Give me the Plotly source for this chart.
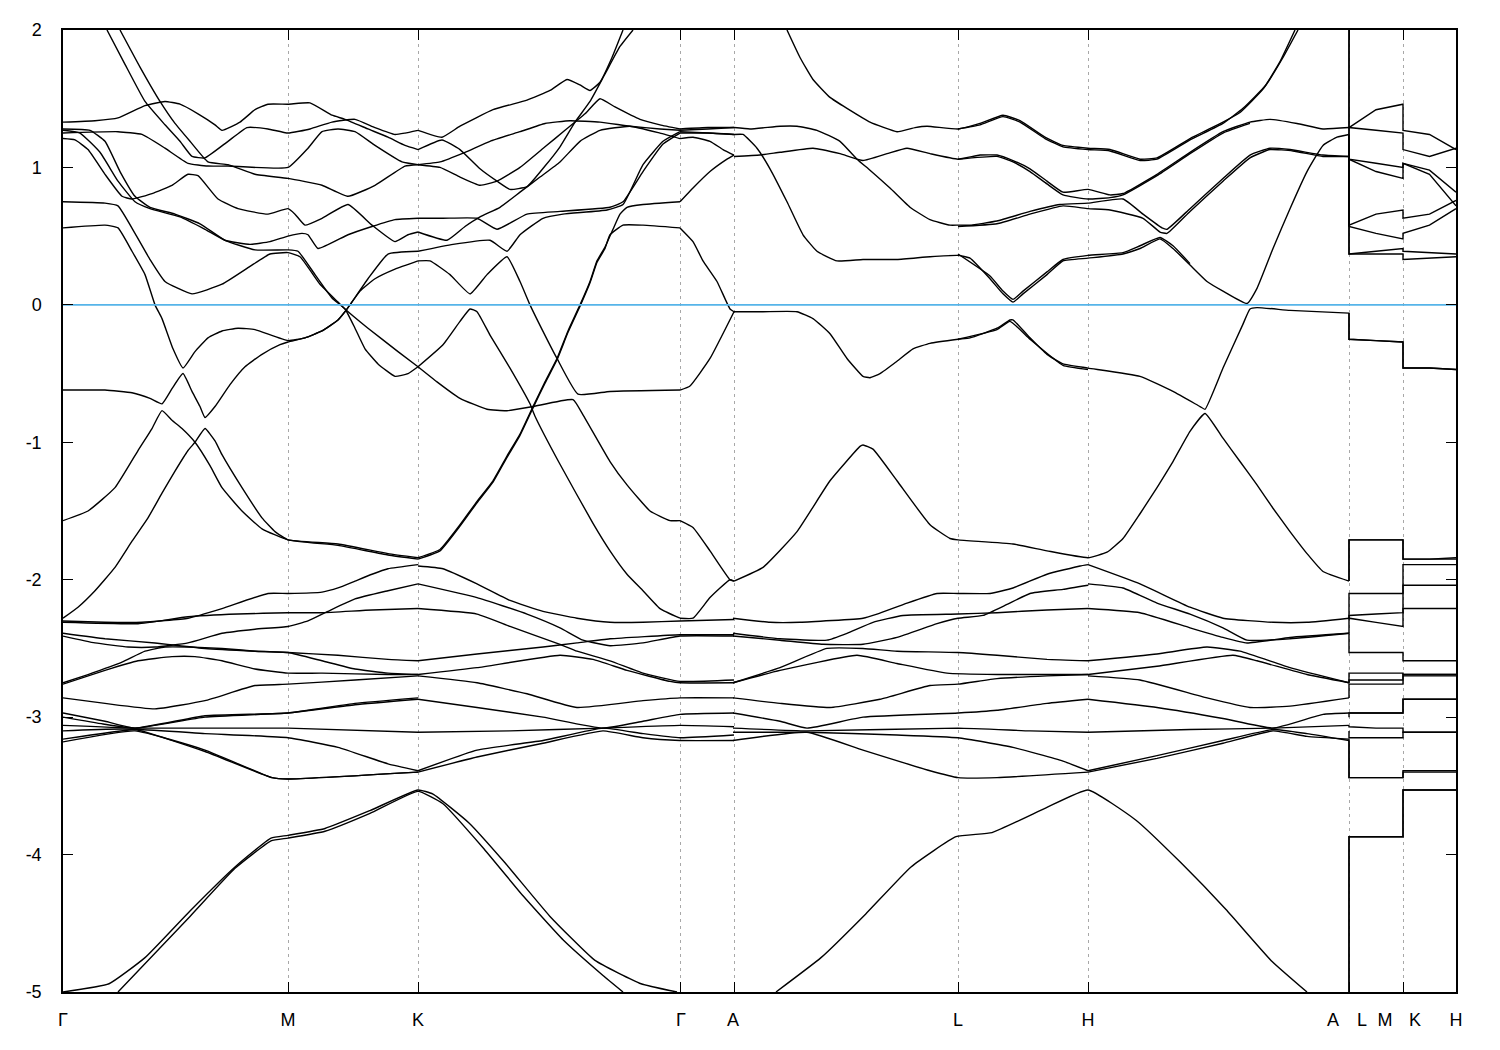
import plotly.graph_objects as go

# ---------------- axis data ----------------
hs_k = [0, 225, 355, 617, 671, 895, 1025, 1286, 1340, 1393]          # high-symmetry positions
label_k = [0, 225, 355, 618, 670, 895, 1025, 1270, 1299, 1322, 1352, 1393]
label_text = ["Γ", "M", "K", "Γ", "A", "L", "H", "A", "L", "M", "K", "H"]
y_ticks = [2, 1, 0, -1, -2, -3, -4, -5]
y_text = ["2", "1", "0", "-1", "-2", "-3", "-4", "-5"]

# ---------------- Γ-M-K (upper bands) ----------------
B1 = [(0,1.33),(32,1.34),(55,1.36),(82,1.45),(102,1.48),(117,1.46),(135,1.39),(152,1.31),(159,1.27),(177,1.33),(192,1.42),(205,1.46),(225,1.46),(247,1.47),(269,1.38),(282,1.35),(305,1.28),(325,1.22),(342,1.16),(355,1.13)]
S1 = [(44,2.0),(62,1.75),(82,1.48),(102,1.31),(117,1.19),(129,1.08),(142,1.07),(165,1.19),(184,1.29),(205,1.28),(225,1.25),(247,1.28),(269,1.33),(292,1.35),(312,1.29),(332,1.24),(342,1.25),(355,1.27)]
S2 = [(57,2.0),(77,1.73),(97,1.48),(112,1.32),(127,1.19),(145,1.04),(165,1.02),(192,0.95),(225,0.92),(259,0.87),(285,0.79),(312,0.87),(342,1.01),(355,1.02)]
B3 = [(0,1.25),(55,1.26),(79,1.24),(102,1.14),(125,1.03),(145,1.01),(165,1.01),(225,1.00),(245,1.14),(259,1.26),(275,1.28),(292,1.26),(312,1.16),(339,1.04),(355,1.02)]
B5 = [(0,1.21),(12,1.20),(25,1.13),(42,0.95),(59,0.79),(69,0.77),(89,0.81),(109,0.87),(125,0.95),(135,0.94),(155,0.77),(175,0.70),(205,0.66),(225,0.70),(232,0.66),(242,0.58),(259,0.63),(285,0.73),(309,0.58),(332,0.46),(345,0.51),(355,0.53)]
B6 = [(0,1.27),(17,1.25),(37,1.11),(55,0.90),(72,0.75),(87,0.70),(117,0.64),(142,0.55),(162,0.47),(187,0.44),(207,0.46),(225,0.50),(239,0.52),(245,0.51),(255,0.41),(285,0.51),(309,0.57),(332,0.62),(355,0.63)]
B7 = [(0,1.28),(27,1.27),(42,1.19),(57,0.97),(72,0.79),(87,0.71),(112,0.66),(137,0.59),(162,0.47),(192,0.40),(225,0.40),(235,0.39),(252,0.22),(269,0.05),(282,-0.03),(292,-0.17),(302,-0.32),(315,-0.43),(332,-0.52),(345,-0.50),(355,-0.45)]
B8 = [(0,0.75),(42,0.74),(55,0.72),(72,0.52),(87,0.33),(102,0.17),(129,0.08),(159,0.15),(187,0.28),(207,0.37),(225,0.38),(237,0.35),(257,0.15),(275,0.02),(282,-0.03),(305,-0.17),(335,-0.34),(355,-0.45)]
B9 = [(0,0.56),(42,0.58),(55,0.56),(69,0.39),(82,0.22),(92,0.0),(99,-0.10),(110,-0.32),(120,-0.46),(132,-0.34),(145,-0.24),(159,-0.19),(175,-0.17),(192,-0.18),(225,-0.26),(242,-0.24),(259,-0.19),(275,-0.11),(282,-0.05),(287,0.0),(305,0.19),(325,0.37),(355,0.39)]
B10 = [(0,-0.62),(42,-0.62),(69,-0.64),(87,-0.68),(99,-0.72),(109,-0.61),(120,-0.50),(129,-0.63),(137,-0.74),(142,-0.82),(152,-0.74),(167,-0.58),(182,-0.45),(199,-0.36),(217,-0.29),(225,-0.27),(242,-0.24),(259,-0.19),(275,-0.11),(285,-0.02),(297,0.10),(312,0.19),(332,0.26),(355,0.32)]
B11 = [(0,-1.57),(25,-1.50),(52,-1.33),(75,-1.06),(89,-0.90),(99,-0.77),(109,-0.84),(119,-0.90),(132,-1.00),(147,-1.17),(159,-1.33),(179,-1.50),(199,-1.63),(225,-1.71),(275,-1.74),(325,-1.81),(355,-1.84)]
B12 = [(0,-2.28),(15,-2.20),(32,-2.08),(52,-1.91),(69,-1.72),(85,-1.55),(99,-1.37),(112,-1.21),(125,-1.06),(132,-1.00),(142,-0.90),(152,-0.99),(159,-1.09),(179,-1.33),(199,-1.55),(212,-1.65),(225,-1.71),(275,-1.75),(325,-1.82),(355,-1.85)]

# ---------------- K-Γ (upper bands) ----------------
KG1 = [(355,1.27),(379,1.22),(397,1.30),(430,1.42),(464,1.49),(487,1.56),(504,1.64),(517,1.60),(527,1.56),(537,1.62),(549,1.80),(560,2.0)]
KG2 = [(355,1.13),(379,1.20),(397,1.13),(417,0.99),(434,0.90),(447,0.84),(464,0.86),(482,1.01),(497,1.15),(512,1.33),(527,1.48),(542,1.68),(557,1.88),(570,2.0)]
KG3 = [(355,1.02),(377,1.00),(397,0.93),(417,0.87),(434,0.90),(457,1.00),(482,1.15),(502,1.27),(522,1.39),(537,1.50),(552,1.44),(577,1.35),(597,1.31),(617,1.28)]
KG4 = [(355,1.02),(377,1.04),(402,1.11),(427,1.19),(457,1.26),(482,1.32),(507,1.34),(537,1.33),(567,1.30),(597,1.28),(617,1.27)]
KG5 = [(355,0.63),(380,0.63),(414,0.63),(434,0.55),(464,0.66),(497,0.68),(547,0.71),(560,0.75),(580,0.97),(600,1.17),(617,1.25)]
KG6 = [(355,0.53),(384,0.47),(402,0.57),(417,0.64),(437,0.71),(457,0.82),(477,0.93),(497,1.04),(517,1.19),(537,1.27),(567,1.30),(597,1.25),(617,1.21)]
KG7 = [(355,0.39),(390,0.44),(427,0.47),(444,0.39),(457,0.51),(480,0.63),(500,0.66),(544,0.69),(560,0.73),(580,1.02),(600,1.19),(617,1.26)]
KG8 = [(355,0.32),(367,0.32),(387,0.22),(407,0.08),(424,0.22),(444,0.35),(457,0.17),(467,0.0),(475,-0.12),(494,-0.39),(515,-0.65),(547,-0.63),(617,-0.62)]
KGb = [(355,-0.45),(380,-0.29),(397,-0.12),(407,-0.03),(414,-0.05),(427,-0.22),(447,-0.46),(467,-0.72),(472,-0.81),(497,-1.16),(530,-1.59),(547,-1.79),(564,-1.96),(580,-2.08),(597,-2.21),(617,-2.28)]
KGc = [(355,-0.45),(374,-0.56),(397,-0.68),(424,-0.76),(444,-0.77),(470,-0.74),(510,-0.69),(520,-0.80),(547,-1.14),(564,-1.31),(587,-1.50),(607,-1.57),(617,-1.57)]
P1a = [(355,-1.84),(377,-1.78),(397,-1.60),(414,-1.43),(430,-1.28),(444,-1.10),(457,-0.94),(470,-0.74),(482,-0.56),(494,-0.39),(505,-0.19),(517,0.0),(527,0.17),(534,0.32),(542,0.42),(550,0.55),(557,0.66),(564,0.71),(580,0.73),(617,0.75)]
P1b = [(355,-1.85),(377,-1.79),(397,-1.61),(414,-1.44),(430,-1.29),(444,-1.11),(457,-0.95),(470,-0.75),(482,-0.57),(494,-0.40),(505,-0.20),(517,-0.01),(527,0.16),(534,0.31),(542,0.41),(547,0.51),(560,0.58),(580,0.58),(617,0.56)]

# ---------------- Γ-A (upper bands) ----------------
GA1 = [(617,1.28),(645,1.29),(671,1.29)]
GA2 = [(617,1.27),(645,1.28),(671,1.29)]
GA3 = [(617,1.26),(645,1.25),(671,1.24)]
GA4 = [(617,1.25),(645,1.25),(671,1.24)]
GA5 = [(617,1.21),(630,1.22),(647,1.19),(660,1.13),(671,1.09)]
GA6 = [(617,0.75),(630,0.85),(647,0.97),(664,1.06),(671,1.09)]
GA7 = [(617,0.56),(630,0.46),(640,0.32),(654,0.17),(667,-0.03),(671,-0.05)]
GA8 = [(617,-0.62),(627,-0.59),(647,-0.39),(671,-0.05)]
GA9 = [(617,-1.57),(630,-1.62),(647,-1.79),(667,-2.00),(671,-2.01)]
GA10 = [(617,-2.28),(630,-2.28),(647,-2.13),(667,-2.00),(671,-2.01)]

# ---------------- A-L-H-A (upper bands) ----------------
AU1 = [(724,2.0),(737,1.80),(750,1.64),(767,1.51),(784,1.43),(807,1.33),(834,1.26),(852,1.29),(864,1.30),(895,1.28),(917,1.32),(940,1.38),(957,1.34),(982,1.22),(1000,1.16),(1025,1.14),(1047,1.13),(1077,1.06),(1094,1.07),(1127,1.21),(1160,1.33),(1177,1.40),(1200,1.57),(1217,1.77),(1232,2.0)]
AU1b = [(895,1.28),(917,1.31),(940,1.37),(957,1.33),(982,1.21),(1000,1.15),(1025,1.13),(1047,1.12),(1077,1.05),(1094,1.06),(1127,1.20),(1160,1.32),(1180,1.43),(1203,1.60),(1220,1.80),(1235,2.0)]
AU2 = [(671,1.29),(687,1.28),(717,1.30),(734,1.30),(754,1.27),(777,1.19),(794,1.06),(807,0.98),(827,0.85),(847,0.71),(867,0.62),(887,0.58),(895,0.58),(907,0.58),(934,0.61),(967,0.68),(997,0.73),(1025,0.74),(1060,0.77),(1080,0.66),(1099,0.56),(1104,0.55),(1127,0.70),(1160,0.92),(1187,1.09),(1207,1.14),(1227,1.13),(1260,1.09),(1286,1.08)]
AU5 = [(895,0.57),(934,0.59),(967,0.66),(1000,0.72),(1025,0.70),(1047,0.69),(1080,0.63),(1097,0.53),(1104,0.52),(1127,0.68),(1160,0.90),(1187,1.07),(1207,1.13),(1230,1.12),(1260,1.08),(1286,1.08)]
AU3 = [(671,1.24),(680,1.24),(694,1.14),(707,0.99),(724,0.75),(740,0.51),(754,0.39),(774,0.32),(800,0.33),(834,0.33),(867,0.35),(895,0.36),(907,0.34),(927,0.19),(940,0.08),(950,0.02),(960,0.08),(984,0.22),(1000,0.32),(1025,0.34),(1060,0.37),(1077,0.41),(1097,0.48),(1110,0.41),(1127,0.29),(1144,0.17),(1160,0.10),(1184,0.01),(1194,0.12),(1210,0.41),(1227,0.70),(1244,0.97),(1260,1.16),(1274,1.22),(1286,1.24)]
AU3b = [(895,0.37),(927,0.21),(940,0.10),(950,0.04),(960,0.10),(984,0.24),(1000,0.33),(1025,0.36),(1060,0.38),(1077,0.43),(1097,0.49),(1110,0.43),(1127,0.30)]
AU4 = [(671,1.08),(697,1.09),(717,1.11),(750,1.14),(777,1.10),(800,1.05),(824,1.10),(844,1.14),(867,1.10),(895,1.06),(917,1.09),(934,1.09),(950,1.05),(967,0.99),(984,0.90),(1000,0.82),(1025,0.84),(1047,0.80),(1060,0.81),(1094,0.95),(1127,1.11),(1160,1.26),(1187,1.33),(1207,1.35),(1234,1.32),(1260,1.28),(1286,1.29)]
AU4b = [(895,1.06),(934,1.08),(950,1.04),(967,0.97),(984,0.88),(1000,0.80),(1025,0.77),(1047,0.78),(1060,0.80),(1094,0.94),(1127,1.10),(1160,1.25),(1187,1.32)]
AN1 = [(671,-0.05),(700,-0.05),(734,-0.05),(750,-0.10),(767,-0.21),(784,-0.39),(800,-0.52),(807,-0.53),(817,-0.50),(834,-0.41),(850,-0.32),(867,-0.28),(895,-0.25),(907,-0.24),(934,-0.17),(947,-0.11),(950,-0.11),(967,-0.24),(984,-0.36),(1000,-0.43),(1025,-0.46),(1077,-0.52),(1110,-0.63),(1137,-0.74),(1142,-0.76),(1160,-0.46),(1180,-0.14),(1187,-0.03),(1194,-0.02),(1227,-0.04),(1286,-0.06)]
AN1b = [(895,-0.25),(934,-0.18),(947,-0.12),(967,-0.25),(1000,-0.44),(1025,-0.47)]
AN2 = [(671,-2.01),(700,-1.91),(734,-1.65),(767,-1.28),(797,-1.03),(800,-1.02),(810,-1.05),(834,-1.28),(867,-1.60),(887,-1.70),(895,-1.71),(950,-1.74),(984,-1.79),(1025,-1.84),(1044,-1.80),(1060,-1.70),(1077,-1.52),(1094,-1.33),(1110,-1.14),(1127,-0.92),(1142,-0.79),(1160,-0.97),(1177,-1.14),(1194,-1.31),(1210,-1.48),(1227,-1.65),(1244,-1.81),(1260,-1.94),(1286,-2.01)]

# ---------------- lower manifold Γ-M-K ----------------
La = [(0,-2.30),(42,-2.31),(79,-2.31),(125,-2.28),(159,-2.21),(205,-2.10),(225,-2.10),(259,-2.09),(275,-2.06),(292,-2.01),(309,-1.96),(325,-1.92),(355,-1.89)]
Lg = [(0,-2.31),(75,-2.32),(125,-2.27),(175,-2.25),(225,-2.24),(259,-2.24),(309,-2.22),(355,-2.21)]
Lb = [(0,-2.39),(42,-2.43),(92,-2.46),(142,-2.50),(192,-2.52),(225,-2.53),(275,-2.55),(325,-2.58),(355,-2.59)]
Lc = [(0,-2.41),(32,-2.46),(65,-2.49),(92,-2.49),(125,-2.46),(159,-2.39),(192,-2.36),(225,-2.34),(245,-2.30),(265,-2.23),(292,-2.14),(325,-2.08),(355,-2.03)]
Ld = [(0,-2.75),(25,-2.69),(59,-2.60),(82,-2.52),(102,-2.49),(125,-2.49),(159,-2.50),(192,-2.52),(225,-2.53),(259,-2.59),(292,-2.65),(325,-2.68),(355,-2.69)]
Le = [(0,-2.76),(42,-2.66),(75,-2.59),(109,-2.56),(132,-2.56),(159,-2.59),(192,-2.65),(225,-2.68),(259,-2.68),(325,-2.69),(355,-2.69)]
Lf = [(0,-2.86),(42,-2.90),(92,-2.94),(142,-2.88),(192,-2.77),(225,-2.76),(292,-2.73),(355,-2.70)]
Lh = [(0,-2.97),(42,-3.03),(72,-3.08),(142,-2.99),(225,-2.97),(292,-2.90),(355,-2.86)]
Ll = [(0,-3.00),(40,-3.05),(72,-3.08),(142,-3.00),(225,-2.97),(292,-2.91),(355,-2.87)]
Li = [(0,-3.06),(72,-3.08),(225,-3.08),(355,-3.11)]
Lm = [(0,-3.10),(72,-3.09),(142,-3.25),(209,-3.44),(225,-3.45),(355,-3.40)]
Lj = [(0,-3.16),(72,-3.09),(142,-3.12),(225,-3.15),(275,-3.22),(325,-3.34),(355,-3.39)]
Lk = [(0,-3.18),(72,-3.10),(142,-3.24),(209,-3.44),(225,-3.45),(355,-3.40)]

# ---------------- lower manifold K-Γ-A ----------------
Ma = [(355,-1.90),(380,-1.92),(414,-2.03),(447,-2.15),(480,-2.23),(514,-2.28),(547,-2.31),(580,-2.31),(617,-2.30),(671,-2.29)]
Mb = [(355,-2.03),(414,-2.13),(464,-2.25),(497,-2.35),(520,-2.44),(547,-2.48),(580,-2.46),(617,-2.41),(671,-2.41)]
Mc = [(355,-2.21),(414,-2.25),(447,-2.34),(497,-2.47),(514,-2.52),(547,-2.59),(580,-2.68),(617,-2.74),(671,-2.73)]
Md = [(355,-2.59),(414,-2.54),(480,-2.49),(514,-2.46),(547,-2.43),(617,-2.40),(671,-2.40)]
Me = [(355,-2.69),(414,-2.64),(497,-2.55),(530,-2.58),(564,-2.66),(607,-2.74),(617,-2.75),(671,-2.75)]
Mf = [(355,-2.70),(414,-2.75),(464,-2.83),(514,-2.93),(580,-2.88),(617,-2.86),(671,-2.86)]
Mg = [(355,-2.87),(414,-2.93),(480,-3.00),(540,-3.08),(580,-3.03),(617,-2.98),(671,-2.97)]
Mh = [(355,-3.11),(447,-3.10),(540,-3.08),(617,-3.06),(671,-3.07)]
Mi = [(355,-3.39),(414,-3.24),(480,-3.17),(540,-3.08),(580,-3.12),(617,-3.15),(671,-3.13)]
Mj = [(355,-3.40),(414,-3.29),(480,-3.19),(540,-3.10),(580,-3.15),(617,-3.17),(671,-3.17)]

# ---------------- lower manifold A-L-H ----------------
N1 = [(670,-2.28),(707,-2.31),(737,-2.31),(800,-2.28),(814,-2.25),(844,-2.17),(874,-2.10),(895,-2.10),(927,-2.10),(950,-2.06),(984,-1.96),(1017,-1.90),(1025,-1.89)]
N2 = [(670,-2.39),(717,-2.43),(764,-2.44),(784,-2.39),(810,-2.31),(840,-2.26),(895,-2.25),(934,-2.24),(984,-2.22),(1025,-2.21)]
N3 = [(670,-2.41),(717,-2.44),(760,-2.47),(800,-2.47),(834,-2.42),(874,-2.32),(895,-2.28),(920,-2.26),(944,-2.18),(967,-2.10),(1000,-2.07),(1025,-2.04)]
N4 = [(670,-2.75),(717,-2.64),(764,-2.50),(800,-2.50),(834,-2.52),(895,-2.53),(934,-2.55),(984,-2.58),(1025,-2.59)]
N5 = [(670,-2.75),(717,-2.66),(794,-2.55),(834,-2.61),(884,-2.68),(934,-2.69),(1025,-2.69)]
N6 = [(670,-2.86),(717,-2.90),(767,-2.93),(817,-2.87),(867,-2.77),(895,-2.76),(934,-2.72),(984,-2.70),(1025,-2.69)]
N7 = [(670,-2.97),(717,-3.03),(744,-3.08),(800,-3.00),(895,-2.97),(934,-2.95),(984,-2.90),(1025,-2.87)]
N8 = [(670,-3.08),(744,-3.10),(895,-3.08),(967,-3.10),(1025,-3.11)]
N9 = [(670,-3.11),(744,-3.11),(834,-3.13),(895,-3.15),(950,-3.22),(1000,-3.32),(1025,-3.39)]
N10 = [(670,-3.17),(744,-3.11),(800,-3.24),(867,-3.39),(895,-3.44),(934,-3.44),(1025,-3.40)]

# ---------------- lower manifold H-A ----------------
Q1 = [(1025,-1.89),(1077,-2.03),(1127,-2.20),(1160,-2.28),(1210,-2.31),(1244,-2.31),(1286,-2.28)]
Q2 = [(1025,-2.03),(1060,-2.06),(1094,-2.17),(1127,-2.25),(1160,-2.35),(1184,-2.44),(1227,-2.43),(1286,-2.39)]
Q3 = [(1025,-2.21),(1077,-2.24),(1127,-2.35),(1160,-2.42),(1184,-2.46),(1227,-2.42),(1286,-2.39)]
Q4 = [(1025,-2.59),(1094,-2.54),(1144,-2.49),(1177,-2.52),(1227,-2.64),(1286,-2.75)]
Q5 = [(1025,-2.69),(1094,-2.63),(1170,-2.55),(1194,-2.59),(1244,-2.69),(1286,-2.75)]
Q6 = [(1025,-2.70),(1077,-2.73),(1144,-2.86),(1187,-2.93),(1227,-2.92),(1286,-2.86)]
Q7 = [(1025,-2.87),(1094,-2.93),(1160,-3.01),(1210,-3.08),(1260,-2.98),(1286,-2.97)]
Q8 = [(1025,-3.11),(1127,-3.09),(1210,-3.08),(1286,-3.06)]
Q9 = [(1025,-3.39),(1094,-3.28),(1160,-3.17),(1210,-3.09),(1244,-3.12),(1286,-3.17)]
Q10 = [(1025,-3.40),(1094,-3.30),(1160,-3.19),(1210,-3.10),(1244,-3.14),(1286,-3.16)]

# ---------------- deep bands ----------------
DA = [(0,-5.0),(46,-4.94),(82,-4.75),(127,-4.41),(172,-4.09),(208,-3.88),(225,-3.86),(262,-3.81),(307,-3.68),(355,-3.53),(370,-3.56),(406,-3.77),(442,-4.06),(487,-4.45),(532,-4.77),(578,-4.94),(614,-5.0)]
DB = [(55,-5.0),(127,-4.45),(172,-4.10),(208,-3.90),(225,-3.88),(262,-3.83),(307,-3.70),(355,-3.54),(380,-3.63),(420,-3.95),(460,-4.30),(500,-4.62),(540,-4.88),(560,-5.0)]
DC = [(713,-5.0),(758,-4.75),(803,-4.43),(848,-4.09),(893,-3.87),(929,-3.84),(983,-3.66),(1025,-3.53),(1073,-3.75),(1118,-4.06),(1163,-4.40),(1208,-4.77),(1244,-5.0)]

# ---------------- A|L - M|K - H (rank-ordered values) ----------------
A_end   = [2.3, 2.3, 1.29, 1.29, 1.24, 1.24, 1.08, 1.08, -0.06, -0.06, -2.01, -2.01, -2.28, -2.29, -2.39, -2.39, -2.75, -2.75, -2.86, -2.97, -3.00, -3.06, -3.10, -3.16, -3.17, -5.3, -5.3]
L_start = [1.29, 1.29, 1.06, 1.06, 0.58, 0.57, 0.37, 0.37, -0.25, -0.25, -1.71, -1.71, -2.10, -2.26, -2.28, -2.53, -2.68, -2.73, -2.76, -2.97, -2.97, -3.07, -3.15, -3.44, -3.44, -3.87, -3.87]
LM_mid  = [1.42, 1.27, 1.03, 0.97, 0.66, 0.52, 0.39, 0.37, -0.26, -0.26, -1.71, -1.71, -2.10, -2.25, -2.31, -2.53, -2.68, -2.73, -2.76, -2.97, -2.97, -3.08, -3.15, -3.44, -3.44, -3.87, -3.87]
M_end   = [1.46, 1.25, 1.00, 0.92, 0.69, 0.48, 0.41, 0.37, -0.27, -0.27, -1.71, -1.71, -2.10, -2.24, -2.34, -2.53, -2.68, -2.73, -2.76, -2.97, -2.97, -3.08, -3.15, -3.44, -3.44, -3.87, -3.87]
K_start = [1.27, 1.13, 1.03, 1.03, 0.63, 0.52, 0.39, 0.33, -0.46, -0.46, -1.85, -1.85, -1.89, -2.04, -2.21, -2.59, -2.69, -2.69, -2.70, -2.87, -2.87, -3.11, -3.11, -3.39, -3.40, -3.53, -3.53]
KH_mid  = [1.24, 1.08, 0.98, 0.95, 0.66, 0.58, 0.38, 0.34, -0.46, -0.46, -1.85, -1.85, -1.89, -2.04, -2.21, -2.59, -2.69, -2.69, -2.70, -2.87, -2.87, -3.11, -3.11, -3.39, -3.40, -3.53, -3.53]
H_end   = [1.13, 1.14, 0.82, 0.72, 0.76, 0.70, 0.37, 0.35, -0.47, -0.47, -1.84, -1.85, -1.89, -2.04, -2.21, -2.59, -2.69, -2.69, -2.70, -2.87, -2.87, -3.11, -3.11, -3.39, -3.40, -3.53, -3.53]

fermi_level = 0.0

pieces = [B1, S1, S2, B3, B5, B6, B7, B8, B9, B10, B11, B12,
          KG1, KG2, KG3, KG4, KG5, KG6, KG7, KG8, KGb, KGc, P1a, P1b,
          GA1, GA2, GA3, GA4, GA5, GA6, GA7, GA8, GA9, GA10,
          AU1, AU1b, AU2, AU5, AU3, AU3b, AU4, AU4b, AN1, AN1b, AN2,
          La, Lg, Lb, Lc, Ld, Le, Lf, Lh, Ll, Li, Lm, Lj, Lk,
          Ma, Mb, Mc, Md, Me, Mf, Mg, Mh, Mi, Mj,
          N1, N2, N3, N4, N5, N6, N7, N8, N9, N10,
          Q1, Q2, Q3, Q4, Q5, Q6, Q7, Q8, Q9, Q10,
          DA, DB, DC]

fig = go.Figure()
band_line = dict(color="black", width=1.4, shape="spline", smoothing=0.4)
for p in pieces:
    fig.add_trace(go.Scatter(x=[a for a, _ in p], y=[b for _, b in p], mode="lines",
                             line=band_line, hoverinfo="skip", showlegend=False))

kA, kM, kH = hs_k[7], hs_k[8], hs_k[9]
for i in range(len(A_end)):
    xs = [kA, kA, (kA + kM) / 2, kM, kM, (kM + kH) / 2, kH]
    ys = [A_end[i], L_start[i], LM_mid[i], M_end[i], K_start[i], KH_mid[i], H_end[i]]
    fig.add_trace(go.Scatter(x=xs, y=ys, mode="lines", line=dict(color="black", width=1.4),
                             hoverinfo="skip", showlegend=False))

# Fermi level
fig.add_trace(go.Scatter(x=[hs_k[0], hs_k[-1]], y=[fermi_level, fermi_level], mode="lines",
                         line=dict(color="#56B4E9", width=1.6), hoverinfo="skip", showlegend=False))
# carrier for the label axis
fig.add_trace(go.Scatter(x=[], y=[], xaxis="x2", yaxis="y", showlegend=False, hoverinfo="skip"))

font = dict(family="Liberation Sans, Arial, sans-serif", size=18, color="black")
fig.update_layout(
    width=1500, height=1050,
    margin=dict(l=55, r=52, t=20, b=66),
    paper_bgcolor="white", plot_bgcolor="white",
    font=font,
    xaxis=dict(range=[hs_k[0], hs_k[-1]], tickvals=hs_k, showticklabels=False,
               ticks="inside", ticklen=10, tickcolor="black", tickwidth=1.2,
               showline=True, linecolor="black", linewidth=1.5, mirror="ticks",
               showgrid=True, gridcolor="#a8a8a8", gridwidth=1, griddash="3px,4px",
               zeroline=False),
    xaxis2=dict(overlaying="x", anchor="y", side="bottom",
                range=[hs_k[0], hs_k[-1]], tickvals=label_k, ticktext=label_text,
                ticks="", showline=False, showgrid=False, zeroline=False,
                tickfont=font, ticklabelstandoff=15),
    yaxis=dict(range=[-5, 2], tickvals=y_ticks, ticktext=y_text,
               ticks="inside", ticklen=10, tickcolor="black", tickwidth=1.2,
               showline=True, linecolor="black", linewidth=1.5, mirror="ticks",
               showgrid=False, zeroline=False, tickfont=font, ticklabelstandoff=16),
)

fig.write_html("out.html")
